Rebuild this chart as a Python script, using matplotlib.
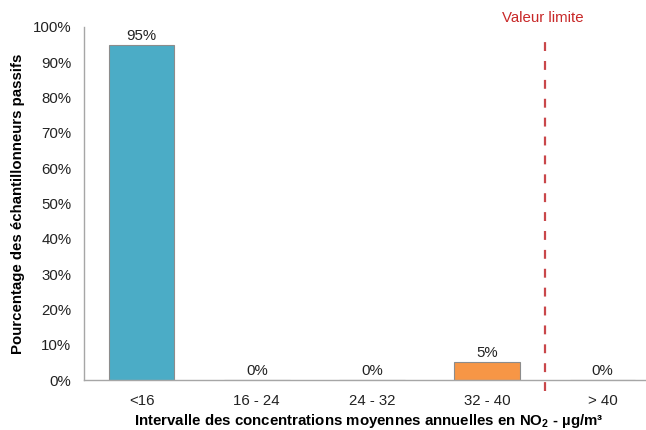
import matplotlib.pyplot as plt
from matplotlib.ticker import PercentFormatter

plt.rcParams['font.family'] = ['Liberation Sans', 'DejaVu Sans']
plt.rcParams['mathtext.fontset'] = 'custom'
plt.rcParams['mathtext.rm'] = 'Liberation Sans'
plt.rcParams['mathtext.bf'] = 'Liberation Sans:bold'

# data
categories = ["<16", "16 - 24", "24 - 32", "32 - 40", "> 40"]
values = [0.95, 0.0, 0.0, 0.05, 0.0]
labels = ["95%", "0%", "0%", "5%", "0%"]
colors = ["#4bacc6", "#4bacc6", "#4bacc6", "#f79646", "#f79646"]
limit_pos = 3.5

fs = 10.8

fig = plt.figure(figsize=(6.46, 4.30), dpi=100)
ax = fig.add_axes([84/646, 50/430, 576/646, 353/430])

x = range(len(categories))
ax.bar(x, values, width=0.57, color=colors, edgecolor="#8c8c8c", linewidth=0.8)

for xi, v, lab in zip(x, values, labels):
    ax.text(xi, v + 0.006, lab, ha="center", va="bottom", fontsize=fs, color="#222222")

# limit line
ax.plot([limit_pos, limit_pos], [-0.03, 0.975], ls=(0, (4, 4.5)), color="#c9474a",
        lw=1.6, clip_on=False)
ax.text(limit_pos - 0.02, 1.005, "Valeur limite", ha="center", va="bottom",
        fontsize=fs, color="#c82828")

ax.set_xlim(-0.5, 4.5)
ax.set_ylim(0, 1)
ax.set_yticks([i / 10 for i in range(11)])
ax.yaxis.set_major_formatter(PercentFormatter(1.0, decimals=0))
ax.set_xticks(list(x))
ax.set_xticklabels(categories)
ax.tick_params(axis="both", length=0, labelsize=fs, colors="#222222")
ax.tick_params(axis="x", pad=10)
ax.tick_params(axis="y", pad=9)

for s in ["top", "right"]:
    ax.spines[s].set_visible(False)
for s in ["left", "bottom"]:
    ax.spines[s].set_color("#a6a6a6")
    ax.spines[s].set_linewidth(1.0)

ax.set_ylabel("Pourcentage des échantillonneurs passifs", fontsize=fs,
              fontweight="bold", labelpad=6)
ax.set_xlabel(r"Intervalle des concentrations moyennes annuelles en NO$_\mathbf{2}$ - µg/m³",
              fontsize=fs, fontweight="bold")
ax.xaxis.set_label_coords(285 / 576, -0.09)

fig.savefig("out.png", dpi=100)
